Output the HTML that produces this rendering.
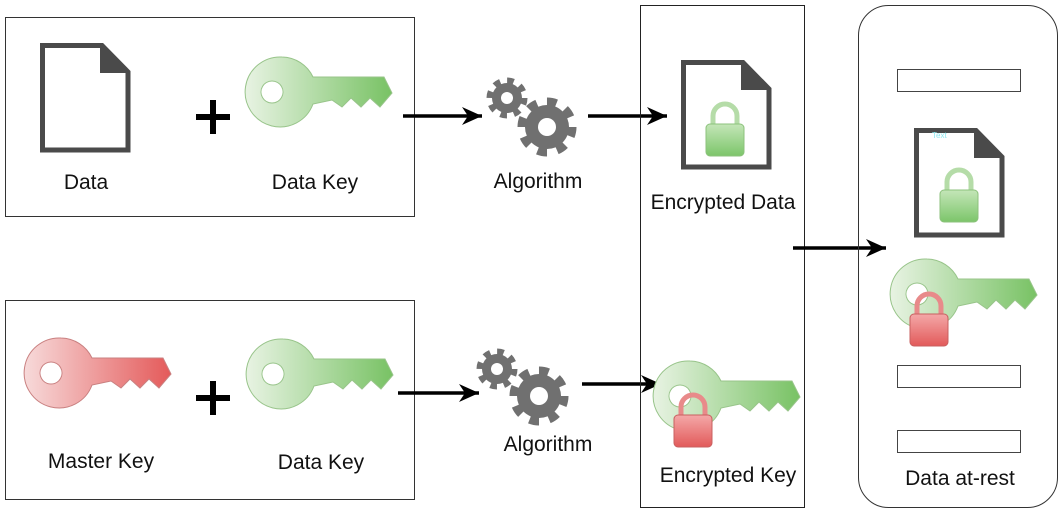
<!DOCTYPE html>
<html><head><meta charset="utf-8"><style>
html,body{margin:0;padding:0;background:#fff;}
svg{display:block;}
text{font-family:"Liberation Sans",sans-serif;font-size:21px;fill:#111;}
</style></head><body>
<svg width="1064" height="518" viewBox="0 0 1064 518" xmlns="http://www.w3.org/2000/svg">
<defs>
<linearGradient id="gg" x1="0" x2="1" y1="0" y2="0"><stop offset="0" stop-color="#e8f3e3"/><stop offset="1" stop-color="#78c264"/></linearGradient>
<linearGradient id="rg" x1="0" x2="1" y1="0" y2="0"><stop offset="0" stop-color="#f7dada"/><stop offset="1" stop-color="#e45a5a"/></linearGradient>
<linearGradient id="lg" x1="0" x2="0" y1="0" y2="1"><stop offset="0" stop-color="#c4e6b8"/><stop offset="1" stop-color="#7cc56a"/></linearGradient>
<linearGradient id="lr" x1="0" x2="0" y1="0" y2="1"><stop offset="0" stop-color="#f4a8a8"/><stop offset="1" stop-color="#e25a5a"/></linearGradient>
<g id="keyg">
<path d="M35,0 A35,35 0 0 1 66,20 L137,20 L145,36 L133,50 L123,41 L114,50 L104,41 L95,50 L85,43 L66,47 A35,35 0 1 1 35,0 Z M25,24 A11,11 0 1 0 25.01,24 Z" fill="url(#gg)" stroke="#98c48a" stroke-width="1" fill-rule="evenodd"/>
</g>
<g id="keyr">
<path d="M35,0 A35,35 0 0 1 66,20 L137,20 L145,36 L133,50 L123,41 L114,50 L104,41 L95,50 L85,43 L66,47 A35,35 0 1 1 35,0 Z M25,24 A11,11 0 1 0 25.01,24 Z" fill="url(#rg)" stroke="#c98080" stroke-width="1" fill-rule="evenodd"/>
</g>
<g id="lockg">
<path d="M7,24 L7,14 A12,12 0 0 1 31,14 L31,24" fill="none" stroke="#b5dca8" stroke-width="5"/>
<rect x="0" y="22" width="38" height="32" rx="4" fill="url(#lg)" stroke="#8cc27c"/>
</g>
<g id="lockr">
<path d="M7,24 L7,14 A12,12 0 0 1 31,14 L31,24" fill="none" stroke="#e88a8a" stroke-width="5"/>
<rect x="0" y="22" width="38" height="32" rx="4" fill="url(#lr)" stroke="#c86060"/>
</g>
<g id="doc">
<path d="M2.5,2.5 L62,2.5 L88,29 L88,107 L2.5,107 Z" fill="#fff" stroke="#4a4a4a" stroke-width="5"/>
<path d="M60,0 L90,30 L60,30 Z" fill="#4a4a4a"/>
</g>
<g id="gs">
<circle r="15" fill="#707070"/>
<circle r="17" fill="none" stroke="#707070" stroke-width="7" stroke-dasharray="6.5 6.85"/>
<circle r="6" fill="#fff"/>
</g>
<g id="gb">
<circle r="22" fill="#707070"/>
<circle r="25" fill="none" stroke="#707070" stroke-width="9" stroke-dasharray="9.5 10.1"/>
<circle r="9" fill="#fff"/>
</g>
<marker id="ah" markerWidth="22" markerHeight="20" refX="20" refY="10" orient="auto" markerUnits="userSpaceOnUse"><path d="M0,1 L20,10 L0,19 L6,10 Z" fill="#000"/></marker>
</defs>

<rect x="5.5" y="17.5" width="409" height="199" fill="none" stroke="#333"/>
<use href="#doc" x="40" y="43"/>
<path d="M196,117 H230 M213,100 V134" stroke="#000" stroke-width="6"/>
<use href="#keyg" x="247" y="57"/>
<text x="86" y="189" text-anchor="middle">Data</text>
<text x="315" y="189" text-anchor="middle">Data Key</text>

<rect x="5.5" y="300.5" width="409" height="199" fill="none" stroke="#333"/>
<use href="#keyr" x="26" y="338"/>
<path d="M196,398 H230 M213,381 V415" stroke="#000" stroke-width="6"/>
<use href="#keyg" x="248" y="339"/>
<text x="101" y="468" text-anchor="middle">Master Key</text>
<text x="321" y="469" text-anchor="middle">Data Key</text>

<line x1="403" y1="116" x2="482" y2="116" stroke="#000" stroke-width="3.5" marker-end="url(#ah)"/>
<g transform="translate(507,98)"><use href="#gs"/></g>
<g transform="translate(547,127)"><use href="#gb"/></g>
<text x="538" y="188" text-anchor="middle">Algorithm</text>
<line x1="588" y1="116" x2="667" y2="116" stroke="#000" stroke-width="3.5" marker-end="url(#ah)"/>

<line x1="398" y1="393" x2="479" y2="393" stroke="#000" stroke-width="3.5" marker-end="url(#ah)"/>
<g transform="translate(497,369)"><use href="#gs"/></g>
<g transform="translate(539,396)"><use href="#gb"/></g>
<text x="548" y="451" text-anchor="middle">Algorithm</text>
<line x1="582" y1="384" x2="661" y2="384" stroke="#000" stroke-width="3.5" marker-end="url(#ah)"/>

<rect x="640.5" y="5.5" width="164" height="502" fill="none" stroke="#222"/>
<use href="#doc" x="681" y="60"/>
<use href="#lockg" x="706" y="102"/>
<text x="723" y="209" text-anchor="middle">Encrypted Data</text>
<use href="#keyg" x="655" y="361"/>
<use href="#lockr" x="674" y="393"/>
<text x="728" y="482" text-anchor="middle">Encrypted Key</text>

<line x1="793" y1="248" x2="886" y2="248" stroke="#000" stroke-width="3.5" marker-end="url(#ah)"/>

<rect x="858.5" y="5.5" width="199" height="502" rx="30" fill="none" stroke="#333"/>
<rect x="897.5" y="69.5" width="123" height="22" fill="#fff" stroke="#444"/>
<use href="#doc" x="914" y="128"/>
<text x="932" y="138" style="font-size:8px;fill:#8ee8f0">Text</text>
<use href="#lockg" x="940" y="168"/>
<use href="#keyg" x="892" y="259"/>
<use href="#lockr" x="910" y="292"/>
<rect x="897.5" y="365.5" width="123" height="22" fill="#fff" stroke="#444"/>
<rect x="897.5" y="430.5" width="123" height="22" fill="#fff" stroke="#444"/>
<text x="960" y="485" text-anchor="middle">Data at-rest</text>
</svg>
</body></html>
